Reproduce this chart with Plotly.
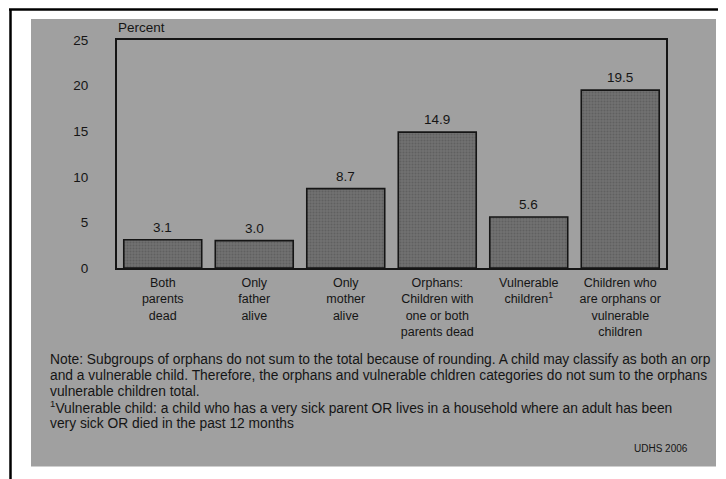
import plotly.graph_objects as go

categories = [
    "Both<br>parents<br>dead",
    "Only<br>father<br>alive",
    "Only<br>mother<br>alive",
    "Orphans:<br>Children with<br>one or both<br>parents dead",
    "Vulnerable<br>children<sup>1</sup>",
    "Children who<br>are orphans or<br>vulnerable<br>children",
]
values = [3.1, 3.0, 8.7, 14.9, 5.6, 19.5]
value_labels = ["3.1", "3.0", "8.7", "14.9", "5.6", "19.5"]
y_ticks = [0, 5, 10, 15, 20, 25]
note_lines = [
    "Note: Subgroups of orphans do not sum to the total because of rounding. A child may classify as both an orp",
    "and a vulnerable child. Therefore, the orphans and vulnerable chldren categories do not sum to the orphans",
    "vulnerable children total.",
    "<sup>1</sup>Vulnerable child: a child who has a very sick parent OR lives in a household where an adult has been",
    "very sick OR died in the past 12 months",
]
source = "UDHS 2006"

# page body has an 8px margin: work in reference-pixel coordinates and shift
OFF = 8
W, H = 726 - OFF, 479 - OFF
L, R, T, B = 117 - OFF, 666 - OFF, 40 - OFF, 268 - OFF
FONT = "Liberation Sans, Arial, sans-serif"
INK = "#151515"


def px(x):
    return (x - OFF - L) / (R - L)


def py(y):
    return (B - (y - OFF)) / (B - T)


fig = go.Figure()
fig.add_trace(go.Bar(
    x=categories,
    y=values,
    marker=dict(
        color="#6a6a6a",
        line=dict(color=INK, width=1.6),
        pattern=dict(shape=".", fgcolor="#4e4e4e", bgcolor="#727272", size=3, solidity=0.4),
    ),
    width=0.852,
))

shapes = [
    dict(type="rect", xref="paper", yref="paper", x0=px(31), x1=px(716), y0=py(19), y1=py(466.5),
         fillcolor="#a0a0a0", line=dict(width=0), layer="below"),
    dict(type="line", xref="paper", yref="paper", x0=px(9), x1=px(740), y0=py(9.5), y1=py(9.5),
         line=dict(color="#000", width=2.5)),
    dict(type="line", xref="paper", yref="paper", x0=px(10.5), x1=px(10.5), y0=py(9), y1=py(490),
         line=dict(color="#000", width=2.5)),
]

annotations = []
for cat, val, lab in zip(categories, values, value_labels):
    annotations.append(dict(text=lab, x=cat, y=val, xref="x", yref="y", yanchor="middle", yshift=12.5,
                            showarrow=False, font=dict(size=13.5, color=INK, family=FONT)))
annotations += [
    dict(text="Percent", xref="paper", yref="paper", x=px(116), y=py(27.5), xanchor="left", yanchor="middle",
         showarrow=False, font=dict(size=13.5, color=INK, family=FONT)),
    dict(text=source, xref="paper", yref="paper", x=px(690), y=py(448), xanchor="right", yanchor="middle",
         showarrow=False, font=dict(size=10, color=INK, family=FONT)),
]
line_y = [359, 375, 391, 407, 423]
for txt, yy in zip(note_lines, line_y):
    annotations.append(dict(text=txt, xref="paper", yref="paper", x=px(48), y=py(yy), xanchor="left",
                            yanchor="middle", showarrow=False, font=dict(size=13.8, color=INK, family=FONT)))

fig.update_layout(
    width=W, height=H,
    margin=dict(l=L, r=W - R, t=T, b=H - B, pad=0),
    paper_bgcolor="white",
    plot_bgcolor="rgba(0,0,0,0)",
    showlegend=False,
    bargap=0.148,
    shapes=shapes,
    annotations=annotations,
    font=dict(family=FONT, color=INK),
    xaxis=dict(showline=True, linecolor=INK, linewidth=2, mirror=True, ticks="", showgrid=False,
               ticklabelstandoff=2,
               tickfont=dict(size=12.5, color=INK, family=FONT), fixedrange=True),
    yaxis=dict(range=[0, 25], tickvals=y_ticks, showline=True, linecolor=INK, linewidth=2, mirror=True,
               ticks="", showgrid=False, zeroline=False, ticklabelstandoff=24,
               tickfont=dict(size=13.5, color=INK, family=FONT), fixedrange=True),
)

fig.write_html("out.html")
